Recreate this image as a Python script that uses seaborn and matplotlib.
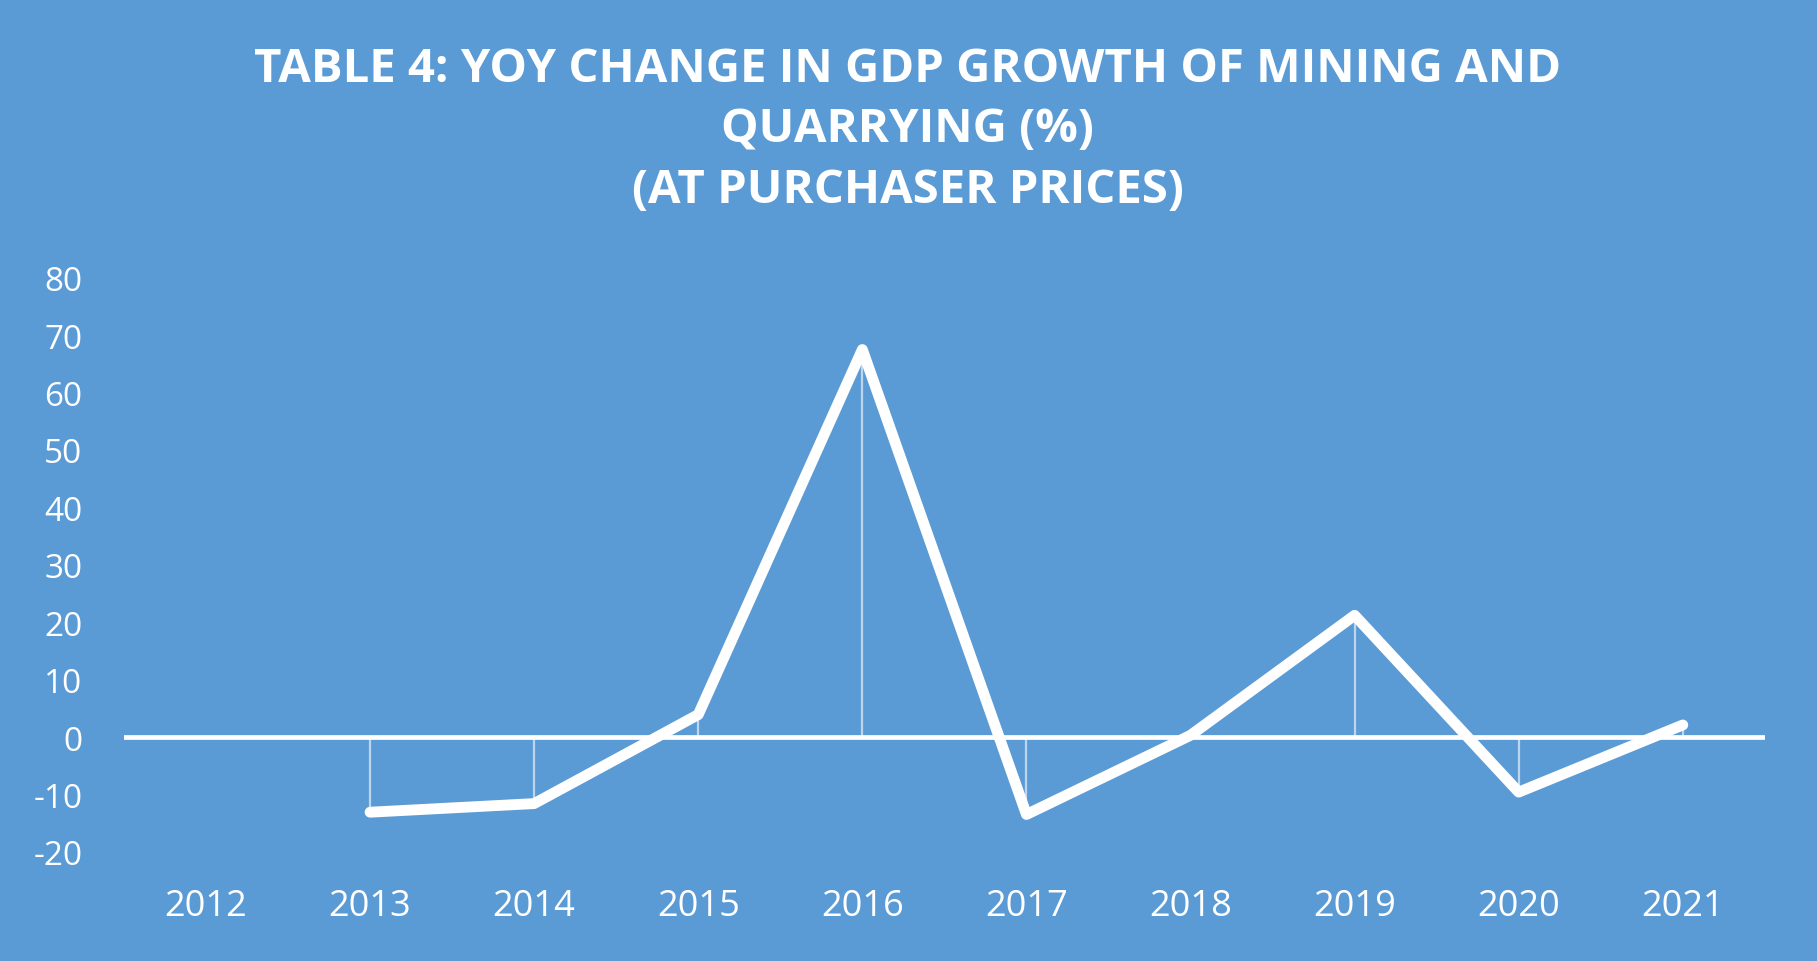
import numpy as np
import pandas as pd
import matplotlib
matplotlib.use("Agg")
import matplotlib.pyplot as plt
import seaborn as sns

years = ["2012", "2013", "2014", "2015", "2016", "2017", "2018", "2019", "2020", "2021"]
growth = [np.nan, -13.1, -11.6, 3.9, 67.5, -13.5, 0.3, 21.2, -9.6, 2.1]
yticks = [-20, -10, 0, 10, 20, 30, 40, 50, 60, 70, 80]
title = "TABLE 4: YOY CHANGE IN GDP GROWTH OF MINING AND\nQUARRYING (%)\n(AT PURCHASER PRICES)"

BG = "#5B9BD5"

sns.set_theme(style="white")
plt.rcParams["font.family"] = ["Open Sans", "DejaVu Sans"]

fig = plt.figure(figsize=(18.17, 9.62), dpi=100, facecolor=BG)
ax = fig.add_axes([0.0682, 0.1135, 0.9031, 0.5967])
ax.set_facecolor(BG)

df = pd.DataFrame({"pos": np.arange(len(years)), "year": years, "growth": growth})
valid = df.dropna()

# drop lines
ax.vlines(valid["pos"], 0, valid["growth"], colors="white", linewidth=1.6, alpha=0.6, zorder=1)
# zero line
ax.axhline(0, color="white", linewidth=3.4, zorder=2)

sns.lineplot(data=valid, x="pos", y="growth", ax=ax, color="white", linewidth=7.8,
             sort=False, zorder=3, solid_capstyle="round", solid_joinstyle="round")

ax.set_xlim(-0.5, len(years) - 0.5)
ax.set_ylim(-20, 80)
ax.set_xticks(np.arange(len(years)))
ax.set_xticklabels(years)
ax.set_yticks(yticks)
ax.set_yticklabels([str(t) for t in yticks])
ax.tick_params(axis="both", length=0, colors="white")
ax.tick_params(axis="y", pad=30, labelsize=24)
ax.tick_params(axis="x", pad=26, labelsize=26)
ax.set_xlabel("")
ax.set_ylabel("")
for s in ax.spines.values():
    s.set_visible(False)

fig.text(0.4995, 0.865, title, ha="center", va="center", color="white",
         fontsize=34, fontweight="bold", linespacing=1.37)

fig.savefig("out.png", dpi=100, facecolor=BG)
